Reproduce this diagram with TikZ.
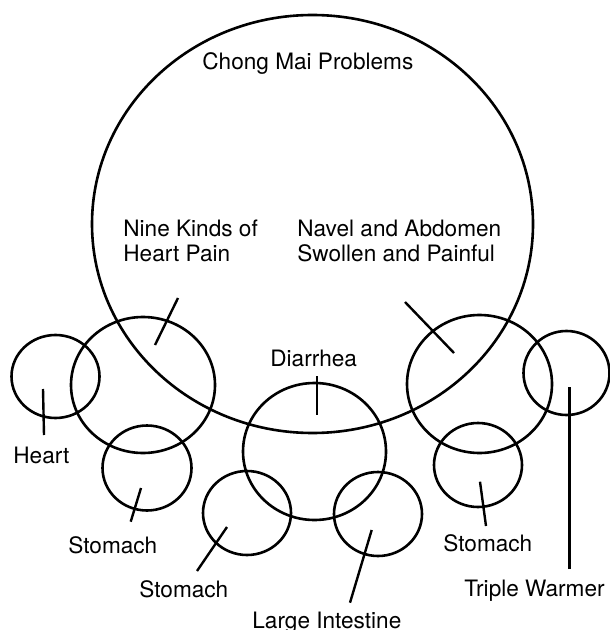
\documentclass[tikz,border=0pt]{standalone}
\usepackage{fontspec}
\setmainfont{TeX Gyre Heros}
\usetikzlibrary{shapes.geometric}

\begin{document}
\begin{tikzpicture}[x=0.5pt, y=-0.5pt,
    organ/.style={ellipse, draw=black, line width=1.3pt, inner sep=0pt},
    txt/.style={anchor=base west, inner sep=0pt, align=left, font=\fontsize{11.3}{12.5}\selectfont},
    line/.style={draw, line width=1.2pt}]

    \useasboundingbox (0,0) rectangle (609,630);

    \node [organ, minimum width=220.5pt, minimum height=209pt] (chong) at (312.5,224) {};
    \node [organ, minimum width=72pt, minimum height=68pt] (ninekinds) at (143,385) {};
    \node [organ, minimum width=72.5pt, minimum height=69pt] (navel) at (479.5,384) {};
    \node [organ, minimum width=71.5pt, minimum height=68.5pt] (diarrhea) at (314.5,451.5) {};
    \node [organ, minimum width=44pt, minimum height=41.5pt] (heart) at (55.5,376.5) {};
    \node [organ, minimum width=43pt, minimum height=42pt] (triple) at (566.5,373) {};
    \node [organ, minimum width=44.5pt, minimum height=42.5pt] (stomachA) at (147,468) {};
    \node [organ, minimum width=44pt, minimum height=42pt] (stomachB) at (247,513) {};
    \node [organ, minimum width=44pt, minimum height=42pt] (intestine) at (378,514) {};
    \node [organ, minimum width=44pt, minimum height=42pt] (stomachC) at (478,465) {};

    \node [txt] (chongtxt) at (202,70) {Chong Mai Problems};
    \node [txt] (ninekindstxt) at (123,262) {Nine Kinds of\\Heart Pain};
    \node [txt] (naveltxt) at (297,262) {Navel and Abdomen\\Swollen and Painful};
    \node [txt] (diarrheatxt) at (270,366) {Diarrhea};
    \node [txt] (hearttxt) at (13,463) {Heart};
    \node [txt] (stomachAtxt) at (68,553) {Stomach};
    \node [txt] (stomachBtxt) at (139,597) {Stomach};
    \node [txt] (intestinetxt) at (252,628) {Large Intestine};
    \node [txt] (stomachCtxt) at (443,551) {Stomach};
    \node [txt] (tripletxt) at (464,596) {Triple Warmer};

    \coordinate (ninekinds1) at (178,298);
    \coordinate (ninekinds2) at (155,345);
    \coordinate (navel1) at (405,302);
    \coordinate (navel2) at (454,353);
    \coordinate (diarrhea1) at (316.7,376);
    \coordinate (diarrhea2) at (316.7,415);
    \coordinate (heart1) at (44,435);
    \coordinate (heart2) at (43,389);
    \coordinate (stomachA1) at (130.7,521.7);
    \coordinate (stomachA2) at (141,488);
    \coordinate (stomachB1) at (197,571);
    \coordinate (stomachB2) at (227,527);
    \coordinate (intestine1) at (350,602.7);
    \coordinate (intestine2) at (371.7,530);
    \coordinate (stomachC1) at (486,526);
    \coordinate (stomachC2) at (480,481.7);
    \coordinate (triple1) at (569.3,569);
    \coordinate (triple2) at (569.3,387);

    \path [line] (ninekinds1) -- (ninekinds2);
    \path [line] (navel1) -- (navel2);
    \path [line] (diarrhea1) -- (diarrhea2);
    \path [line] (heart1) -- (heart2);
    \path [line] (stomachA1) -- (stomachA2);
    \path [line] (stomachB1) -- (stomachB2);
    \path [line] (intestine1) -- (intestine2);
    \path [line] (stomachC1) -- (stomachC2);
    \path [line] (triple1) -- (triple2);
\end{tikzpicture}
\end{document}
